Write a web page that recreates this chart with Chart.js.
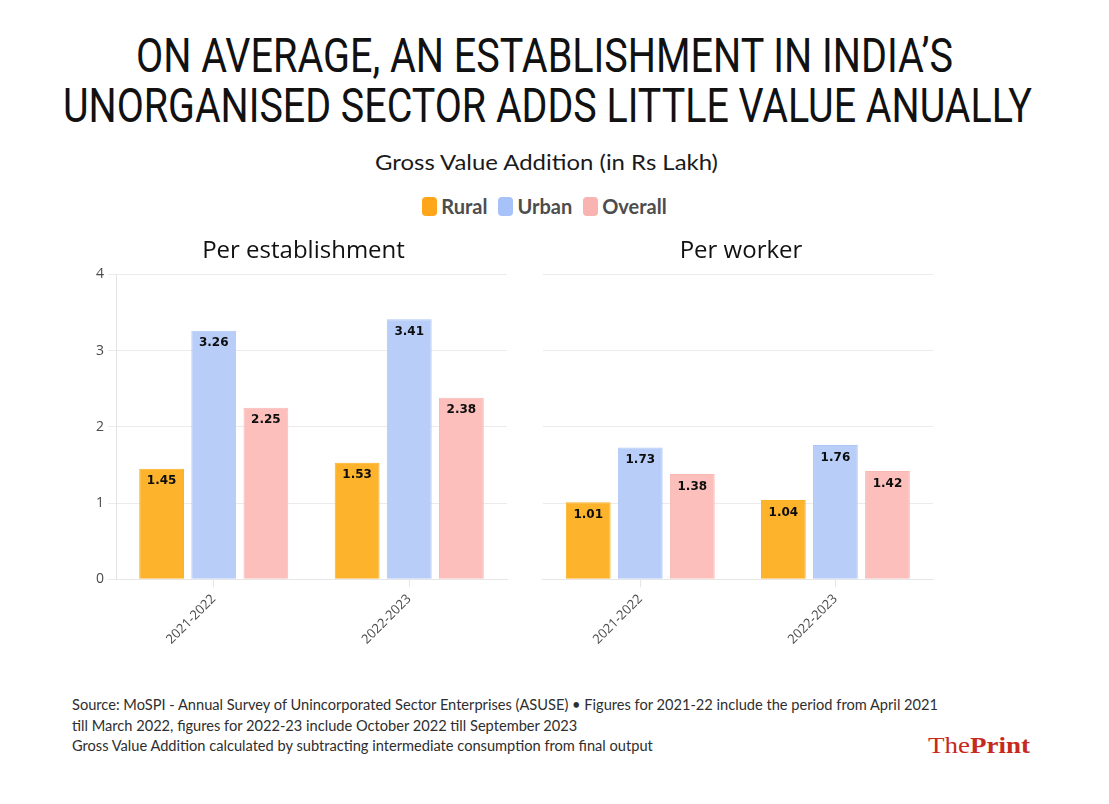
<!DOCTYPE html>
<html><head><meta charset="utf-8">
<script src="https://cdn.jsdelivr.net/npm/chart.js@4.4.1/dist/chart.umd.min.js"></script>
<style>
html,body{margin:0;padding:0;background:#fff;}
#page{position:relative;width:1109px;height:804px;overflow:hidden;background:#fff;}
.fit{position:absolute;white-space:nowrap;transform-origin:0 0;}
.title{font-family:Roboto;font-weight:400;font-size:48px;line-height:48px;color:#111;}
.sub{font-family:Lato;font-size:21px;line-height:21px;color:#1a1a1a;}
.foot{font-family:Lato;font-size:15.5px;line-height:20.5px;color:#2e2e2e;}
.logo{font-family:"Liberation Serif";font-size:24px;line-height:24px;color:#c62a1d;}
#legend{position:absolute;left:0;top:197px;width:1089px;height:19px;display:flex;justify-content:center;gap:11px;}
.li{display:flex;align-items:center;}
.lb{width:15px;height:19px;border-radius:4px;margin-right:4px;}
.lt{font-family:Lato;font-weight:700;font-size:20px;line-height:19px;color:#4d4d4d;}
canvas{position:absolute;}
</style></head><body>
<div id="page">
 <div class="fit title" data-l="136" data-w="817" style="top:31.6px">ON AVERAGE, AN ESTABLISHMENT IN INDIA’S</div>
 <div class="fit title" data-l="63" data-w="969" style="top:81.6px">UNORGANISED SECTOR ADDS LITTLE VALUE ANUALLY</div>
 <div class="fit sub" data-l="375" data-w="343" style="top:151.4px">Gross Value Addition (in Rs Lakh)</div>
 <div id="legend"></div>
 <canvas id="c1" width="487" height="452" style="left:60px;top:228px;width:487px;height:452px"></canvas>
 <canvas id="c2" width="422" height="452" style="left:530px;top:228px;width:422px;height:452px"></canvas>
 <div class="fit foot" id="f1" style="left:72px;top:694px">Source: MoSPI - Annual Survey of Unincorporated Sector Enterprises (ASUSE) • Figures for 2021-22 include the period from April 2021</div>
 <div class="fit foot" id="f2" style="left:72px;top:714.5px">till March 2022, figures for 2022-23 include October 2022 till September 2023</div>
 <div class="fit foot" id="f3" style="left:72px;top:735px">Gross Value Addition calculated by subtracting intermediate consumption from final output</div>
 <div class="fit logo" data-l="928" data-w="102" style="top:733px">The<b>Print</b></div>
</div>
<script>
// ---- data ----
const categories = ['2021-2022', '2022-2023'];
const seriesNames = ['Rural', 'Urban', 'Overall'];
const estRural = [1.45, 1.53];
const estUrban = [3.26, 3.41];
const estOverall = [2.25, 2.38];
const wrkRural = [1.01, 1.04];
const wrkUrban = [1.73, 1.76];
const wrkOverall = [1.38, 1.42];
const yTickMin = 0, yTickMax = 4, yTickStep = 1;
const panelTitles = ['Per establishment', 'Per worker'];

// ---- styles ----
const barColors = ['#fdb42c', '#b8cef9', '#fcbfbb'];
const barBorders = ['#fbb022', '#aec6f6', '#fab8b4'];
const legendColors = ['#ffa51a', '#a6c2f9', '#f9b3b0'];

// legend
const leg = document.getElementById('legend');
seriesNames.forEach((n, i) => {
  const it = document.createElement('div'); it.className = 'li';
  const b = document.createElement('div'); b.className = 'lb'; b.style.background = legendColors[i];
  const t = document.createElement('div'); t.className = 'lt'; t.textContent = n;
  it.appendChild(b); it.appendChild(t); leg.appendChild(it);
});

// fit text widths
function fitAll() {
  document.querySelectorAll('.fit[data-w]').forEach(el => {
    el.style.left = el.dataset.l + 'px';
    el.style.transform = 'none';
    const w = el.getBoundingClientRect().width;
    el.style.transform = 'scaleX(' + (parseFloat(el.dataset.w) / w) + ')';
  });
  const f1 = document.getElementById('f1');
  f1.style.transform = 'none';
  const s = 866 / f1.getBoundingClientRect().width;
  ['f1', 'f2', 'f3'].forEach(id => document.getElementById(id).style.transform = 'scaleX(' + s + ')');
}
fitAll();

// value labels plugin
const valueLabels = {
  id: 'valueLabels',
  afterDatasetsDraw(chart) {
    const ctx = chart.ctx;
    ctx.save();
    ctx.font = 'bold 12px "DejaVu Sans"';
    ctx.fillStyle = '#0d0d0d';
    ctx.textAlign = 'center';
    ctx.textBaseline = 'middle';
    chart.data.datasets.forEach((ds, di) => {
      chart.getDatasetMeta(di).data.forEach((el, i) => {
        ctx.fillText(ds.data[i].toFixed(2), el.x, el.y + 12.5);
      });
    });
    ctx.restore();
  }
};

// center the panel title on the whole canvas width
const titleSpan = {
  id: 'titleSpan',
  afterLayout(chart) {
    if (chart.titleBlock) { chart.titleBlock.left = 0; chart.titleBlock.right = chart.width; }
  }
};

function makeChart(id, title, values, opts) {
  const datasets = values.map((v, i) => ({
    label: seriesNames[i], data: v,
    backgroundColor: barColors[i], borderColor: barBorders[i], borderWidth: 1,
    categoryPercentage: 0.8, barPercentage: 0.86
  }));
  return new Chart(document.getElementById(id), {
    type: 'bar',
    data: { labels: categories, datasets },
    plugins: [valueLabels, titleSpan],
    options: {
      responsive: false, animation: false, devicePixelRatio: 1,
      layout: { padding: { left: 0, right: opts.padRight, top: 0, bottom: 0 } },
      plugins: {
        legend: { display: false }, tooltip: { enabled: false },
        title: { display: true, text: title, color: '#111',
          font: { family: 'Open Sans', size: 24, weight: 'normal' }, padding: { top: 8.5, bottom: 9 } }
      },
      scales: {
        x: {
          grid: { display: true, drawOnChartArea: false, offset: false, tickLength: 8, color: '#e6e6e6' },
          border: { display: true, color: '#e6e6e6' },
          ticks: { minRotation: 45, maxRotation: 45, padding: 4, color: '#4a4a4a',
            font: { family: 'Open Sans', size: 13 } },
          afterFit(s) { s.height = 100.7; }
        },
        y: {
          min: yTickMin, max: yTickMax,
          ticks: { stepSize: yTickStep, display: opts.showY, padding: 4, color: '#4a4a4a',
            font: { family: 'Open Sans', size: 14 } },
          grid: { color: '#ebebeb', drawTicks: opts.showY, tickLength: 8 },
          border: { display: opts.showY, color: '#e3e3e3' },
          afterFit(s) { s.width = opts.yWidth; }
        }
      }
    }
  });
}

makeChart('c1', panelTitles[0], [estRural, estUrban, estOverall], { padRight: 40, showY: true, yWidth: 56 });
makeChart('c2', panelTitles[1], [wrkRural, wrkUrban, wrkOverall], { padRight: 19, showY: false, yWidth: 12.7 });
</script>
</body></html>
